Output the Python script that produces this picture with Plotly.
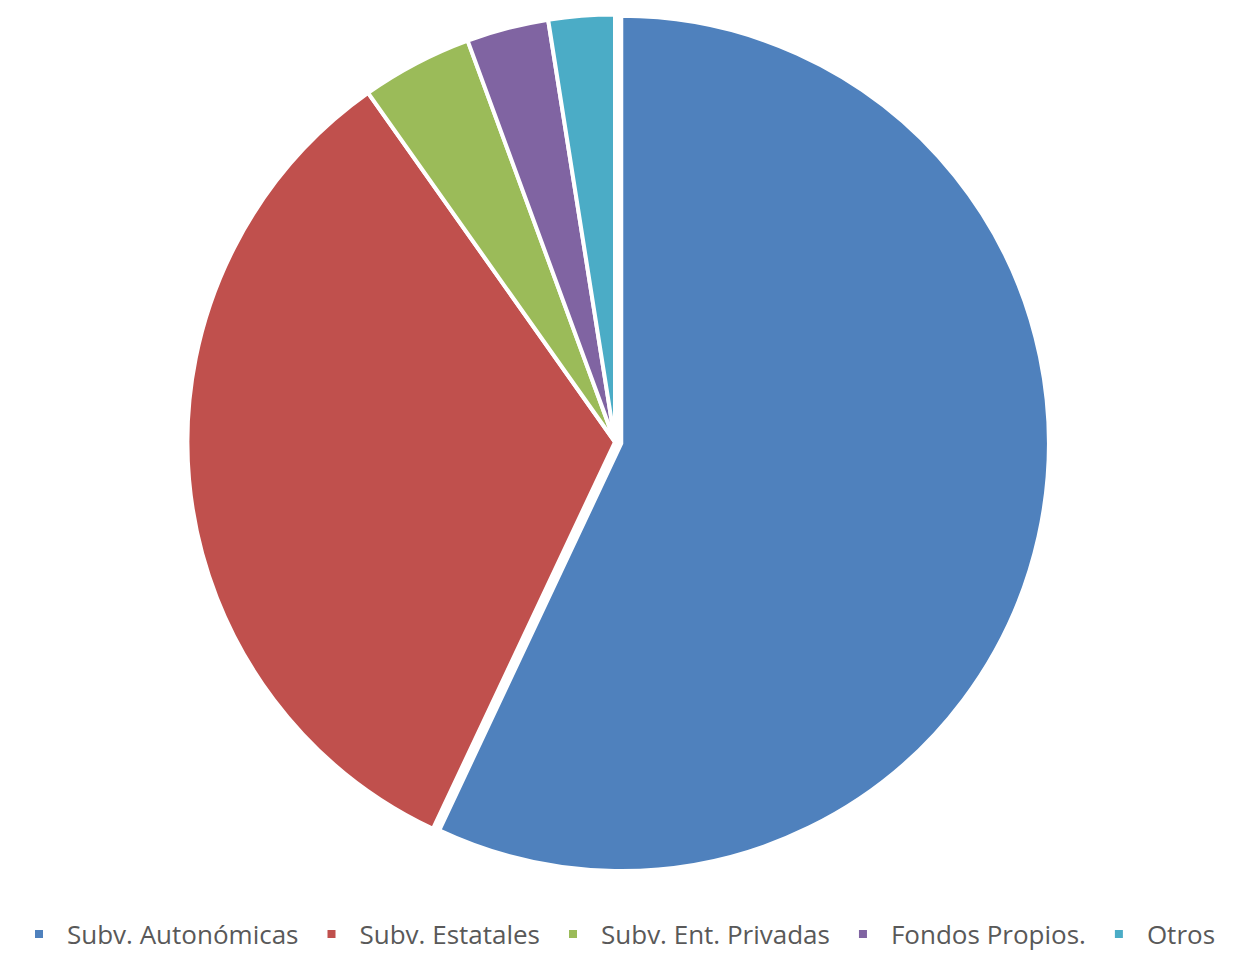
import plotly.graph_objects as go

labels = ["Subv. Autonómicas", "Subv. Estatales", "Subv. Ent. Privadas", "Fondos Propios.", "Otros"]
values = [57.0, 33.2, 4.2, 3.1, 2.5]
colors = ["#4F81BD", "#C0504D", "#9BBB59", "#8064A2", "#4BACC6"]
pulls = [0.015, 0, 0, 0, 0]

W, H = 1246, 955
fig = go.Figure(go.Pie(
    labels=labels,
    values=values,
    sort=False,
    direction="clockwise",
    rotation=0,
    pull=pulls,
    textinfo="none",
    hoverinfo="label+percent",
    marker=dict(colors=colors, line=dict(color="white", width=4)),
    domain=dict(x=[173 / W, 1041 / W], y=[1 - 868 / H, 1.0]),
))

fig.update_layout(
    width=W, height=H,
    margin=dict(l=0, r=0, t=0, b=0, autoexpand=False),
    paper_bgcolor="white",
    plot_bgcolor="white",
    showlegend=True,
    legend=dict(
        orientation="h",
        x=3 / W, xanchor="left",
        y=1 - 926 / H, yanchor="middle",
        font=dict(family="Open Sans, Liberation Sans, sans-serif", size=26, color="#595959"),
        itemwidth=46,
    ),
)

fig.write_html("out.html")
